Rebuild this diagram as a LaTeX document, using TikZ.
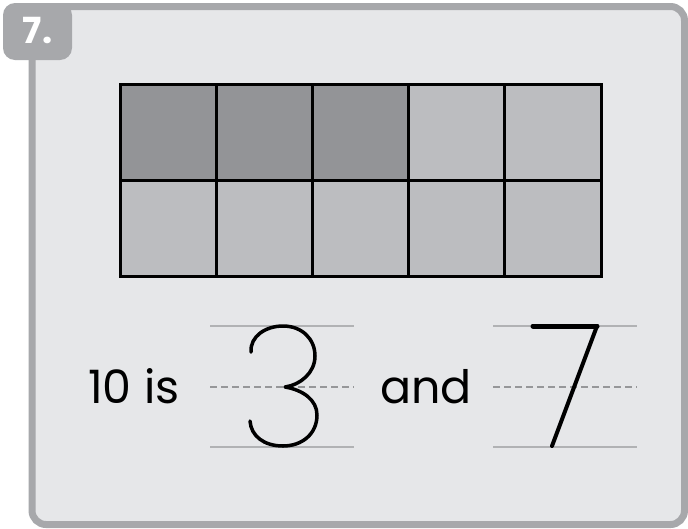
\documentclass[tikz,border=0pt]{standalone}
\usepackage{fontspec}
\setmainfont{Poppins}
\usetikzlibrary{calc}

\definecolor{rim}{HTML}{A7A8AB}
\definecolor{paper}{HTML}{E6E7E9}
\definecolor{dark}{HTML}{939497}
\definecolor{light}{HTML}{BCBDC0}
\definecolor{guidegray}{HTML}{B1B2B4}

\begin{document}
\begin{tikzpicture}[x=1pt,y=-1pt,
	cell/.style={draw=black, line width=3pt},
	guide/.style={draw=guidegray, line width=2pt},
	midguide/.style={draw=guidegray!85!black, line width=2.5pt, dash pattern=on 7pt off 4pt},
	digit/.style={line width=3.5pt, line cap=round, line join=round},
	word/.style={anchor=base west, inner sep=0pt, font=\fontsize{46}{46}\selectfont}]
	\useasboundingbox[fill=white] (0,0) rectangle (688,528);
	% panel and badge
	\draw[line width=7pt, draw=rim, fill=paper, rounded corners=14pt] (32,6.5) rectangle (684.5,524.5);
	\fill[rim, rounded corners=12pt] (3,3) rectangle (72,60);
	\node[text=white, font=\bfseries\fontsize{36}{36}\selectfont] (num) at (37.5,31) {7.};
	% ten frame
	\fill[light] (120,84) rectangle (601,276);
	\fill[dark] (120,84) rectangle (408.6,180);
	\foreach \i in {1,...,4}
		\draw[cell] ({120+96.2*\i},84) -- ({120+96.2*\i},276);
	\draw[cell] (120,180) -- (601,180);
	\draw[cell] (120,84) rectangle (601,276);
	% sentence
	\node[word] (lead) at (88,403) {10 is};
	\node[word] (conj) at (380,403) {and};
	\foreach \x in {210,493}{
		\draw[guide] (\x,326) -- ++(144,0);
		\draw[midguide] (\x,387) -- ++(144,0);
		\draw[guide] (\x,447) -- ++(144,0);
	}
	% handwritten digits
	\draw[digit] (251,352) .. controls (250,336) and (266,326) .. (283,326)
		.. controls (302,326) and (315,339) .. (315,356)
		.. controls (315,373) and (300,385) .. (285,387)
		.. controls (303,390) and (317,400) .. (317,415)
		.. controls (317,434) and (302,446) .. (283,446)
		.. controls (264,446) and (251,436) .. (250,421);
	\draw[digit, line width=5pt] (533,326) -- (597,326);
	\draw[digit, line width=4pt] (597,326) -- (552,446);
\end{tikzpicture}
\end{document}
